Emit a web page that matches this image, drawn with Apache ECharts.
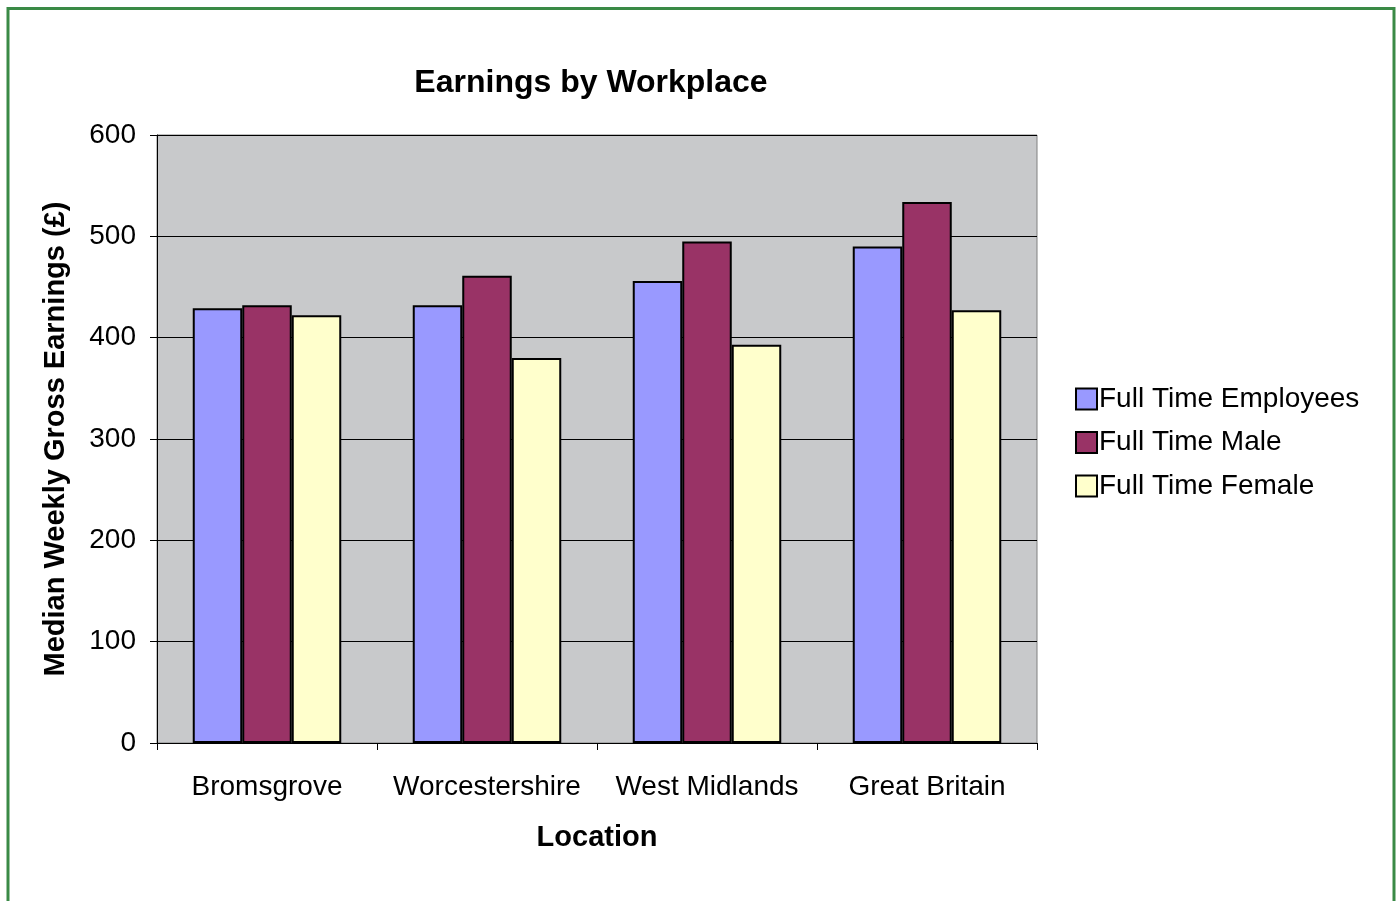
<!DOCTYPE html>
<html>
<head>
<meta charset="utf-8">
<script src="https://cdn.jsdelivr.net/npm/echarts@6/dist/echarts.min.js"></script>
<style>
html,body{margin:0;padding:0;background:#fff;}
#chart{width:1400px;height:901px;}
</style>
</head>
<body>
<div id="chart"></div>
<script>
const categories = ['Bromsgrove', 'Worcestershire', 'West Midlands', 'Great Britain'];
const seriesNames = ['Full Time Employees', 'Full Time Male', 'Full Time Female'];
const fullTimeEmployees = [429, 432, 456, 490];
const fullTimeMale = [432, 461, 495, 534];
const fullTimeFemale = [422, 380, 393, 427];
const yTicks = [0, 100, 200, 300, 400, 500, 600];

const colors = ['#9999ff', '#993366', '#ffffcc'];
const font = '"Liberation Sans", Arial, sans-serif';

const chart = echarts.init(document.getElementById('chart'));
const mk = (name, data, i) => ({
  name: name,
  type: 'bar',
  data: data,
  barGap: '0%',
  barCategoryGap: '32.5%',
  itemStyle: { color: colors[i], borderColor: '#000', borderWidth: 2 },
  emphasis: { disabled: true }
});
chart.setOption({
  animation: false,
  textStyle: { fontFamily: font },
  title: {
    text: 'Earnings by Workplace',
    left: 586, top: 62, textAlign: 'center',
    textStyle: { fontFamily: font, fontSize: 32, fontWeight: 'bold', color: '#000' }
  },
  legend: {
    orient: 'vertical',
    left: 1070, top: 380,
    itemWidth: 21, itemHeight: 21, itemGap: 15.5,
    icon: 'rect',
    textStyle: { fontFamily: font, fontSize: 28, color: '#000', padding: [0, 0, 0, -3] },
    data: seriesNames
  },
  grid: {
    left: 157, right: 363, top: 135, bottom: 158,
    show: true, backgroundColor: '#c8c9cb', borderColor: '#808080', borderWidth: 1
  },
  xAxis: {
    type: 'category',
    data: categories,
    name: 'Location',
    nameLocation: 'middle',
    nameGap: 80,
    nameTextStyle: { fontFamily: font, fontSize: 29, fontWeight: 'bold', color: '#000' },
    axisLine: { lineStyle: { color: '#000', width: 1 } },
    axisTick: { show: true, interval: 0, alignWithLabel: false, length: 7, lineStyle: { color: '#000' } },
    axisLabel: { interval: 0, hideOverlap: false, fontFamily: font, fontSize: 28, color: '#000', margin: 30 }
  },
  yAxis: {
    type: 'value',
    min: yTicks[0], max: yTicks[yTicks.length - 1], interval: 100,
    name: 'Median Weekly Gross Earnings (£)',
    nameLocation: 'middle',
    nameGap: 87,
    nameTextStyle: { fontFamily: font, fontSize: 29, fontWeight: 'bold', color: '#000' },
    axisLine: { show: true, lineStyle: { color: '#000', width: 1 } },
    axisTick: { show: true, length: 7, lineStyle: { color: '#000' } },
    axisLabel: { fontFamily: font, fontSize: 28, color: '#000', margin: 21 },
    splitLine: { show: true, lineStyle: { color: '#000', width: 1 } }
  },
  graphic: [{
    type: 'rect',
    shape: { x: 8, y: 8.5, width: 1386, height: 1000 },
    style: { fill: 'none', stroke: '#3a8a46', lineWidth: 3 },
    silent: true
  }],
  series: [
    mk(seriesNames[0], fullTimeEmployees, 0),
    mk(seriesNames[1], fullTimeMale, 1),
    mk(seriesNames[2], fullTimeFemale, 2)
  ]
});
</script>
</body>
</html>
